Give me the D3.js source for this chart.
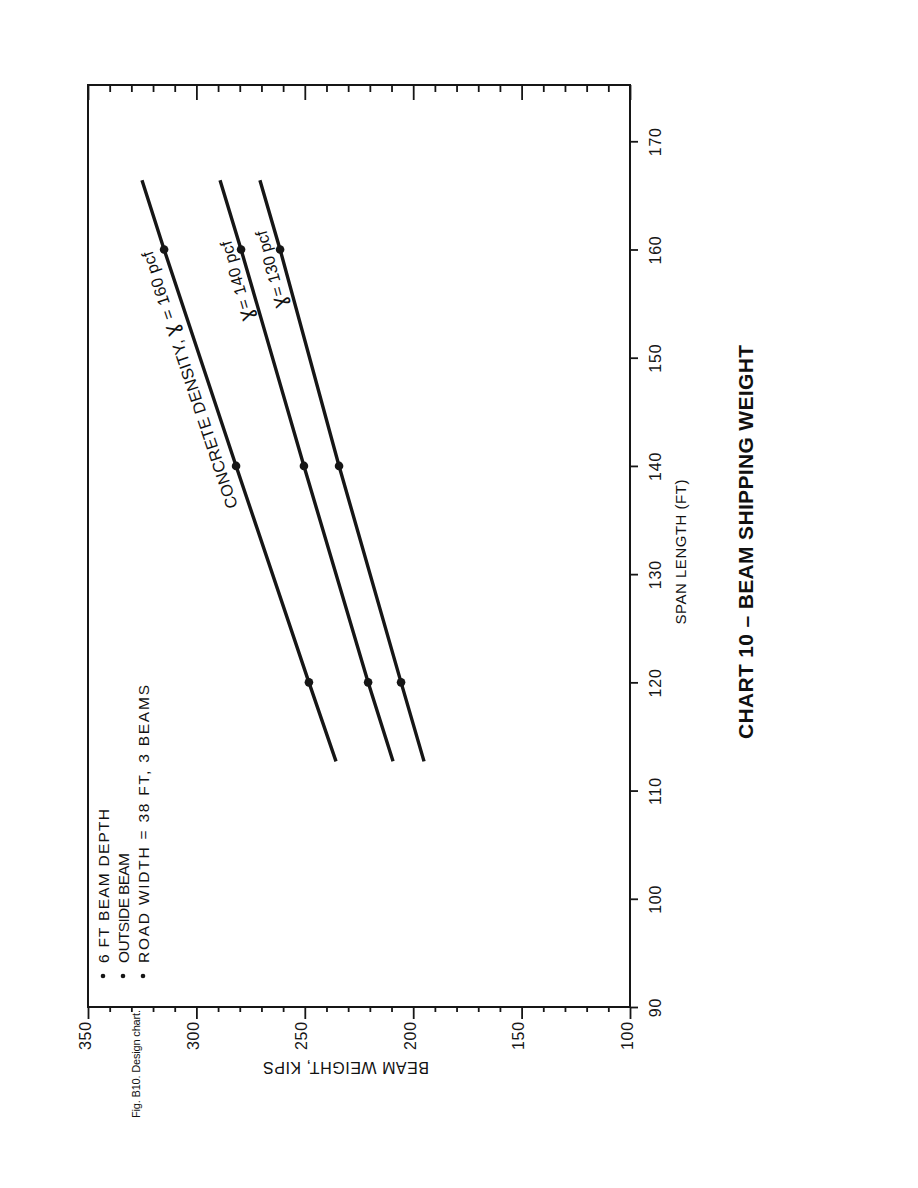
<!DOCTYPE html>
<html>
<head>
<meta charset="utf-8">
<script src="https://cdn.jsdelivr.net/npm/d3@7"></script>
<style>
  html, body { margin: 0; padding: 0; background: #fff; }
  svg { display: block; }
  text { font-family: "Liberation Sans", Arial, Helvetica, sans-serif; fill: #111; }
</style>
</head>
<body>
<script>
// ---------- data ----------
const spanPoints   = [112.7, 120, 140, 160, 166.4];      // span length (ft) of line vertices
const markerSpans  = [120, 140, 160];                      // spans carrying a dot
const weight160    = [235.6, 248.1, 281.7, 314.9, 325.1];  // kips, density 160 pcf
const weight140    = [209.3, 220.8, 250.4, 279.4, 289.1];  // kips, density 140 pcf
const weight130    = [195.0, 205.6, 234.2, 261.4, 270.7];  // kips, density 130 pcf
const seriesNames  = ["CONCRETE DENSITY, \u0263 = 160 pcf", "\u0263= 140 pcf", "\u0263= 130 pcf"];
const weightTicks  = [350, 300, 250, 200, 150, 100];
const weightMinor  = [340, 330, 320, 310, 290, 280, 270, 260, 240, 230, 220, 210,
                      190, 180, 170, 160, 140, 130, 120, 110];
const spanTicks    = [90, 100, 110, 120, 130, 140, 150, 160, 170];
const notes        = ["6 FT BEAM DEPTH", "OUTSIDE BEAM", "ROAD WIDTH = 38 FT, 3 BEAMS"];
const titleText    = "CHART 10 \u2013 BEAM SHIPPING WEIGHT";
const xTitle       = "BEAM WEIGHT, KIPS";
const yTitle       = "SPAN LENGTH (FT)";
const footText     = "Fig. B10. Design chart.";

// ---------- layout ----------
const W = 918, H = 1188;
const svg = d3.select("body").append("svg").attr("width", W).attr("height", H);

const x = d3.scaleLinear().domain([350, 100]).range([88, 630]);   // weight -> horizontal
const y = d3.scaleLinear().domain([90, 175.2]).range([1007, 85]); // span -> vertical

const ink = "#161616";

// frame
svg.append("rect")
  .attr("x", x(350)).attr("y", y(175.2))
  .attr("width", x(100) - x(350)).attr("height", y(90) - y(175.2))
  .attr("fill", "none").attr("stroke", ink).attr("stroke-width", 2);

function styleAxis(g) {
  g.select(".domain").remove();
  g.selectAll(".tick line").attr("stroke", ink).attr("stroke-width", 1.8);
}

// bottom axis (major with labels)
const gBot = svg.append("g").attr("transform", `translate(0,${y(90)})`)
  .call(d3.axisBottom(x).tickValues(weightTicks).tickSize(12).tickFormat(d3.format("d")));
styleAxis(gBot);
gBot.selectAll(".tick text")
  .attr("transform", "rotate(-90)")
  .attr("text-anchor", "end")
  .attr("x", -14).attr("y", 2).attr("dy", 0)
  .attr("font-size", 16).attr("letter-spacing", 0.8)
  .style("fill", ink);

// bottom minor ticks
const gBotMin = svg.append("g").attr("transform", `translate(0,${y(90)})`)
  .call(d3.axisBottom(x).tickValues(weightMinor).tickSize(5).tickFormat(""));
styleAxis(gBotMin);

// top axis ticks (inside)
const gTop = svg.append("g").attr("transform", `translate(0,${y(175.2)})`)
  .call(d3.axisBottom(x).tickValues(weightTicks).tickSize(15).tickFormat(""));
styleAxis(gTop);
const gTopMin = svg.append("g").attr("transform", `translate(0,${y(175.2)})`)
  .call(d3.axisBottom(x).tickValues(weightMinor).tickSize(7).tickFormat(""));
styleAxis(gTopMin);

// right axis (span)
const gRight = svg.append("g").attr("transform", `translate(${x(100)},0)`)
  .call(d3.axisRight(y).tickValues(spanTicks).tickSize(8).tickFormat(d3.format("d")));
styleAxis(gRight);
gRight.selectAll(".tick text")
  .attr("transform", "rotate(-90)")
  .attr("text-anchor", "middle")
  .attr("x", 0).attr("y", 31).attr("dy", 0)
  .attr("font-size", 16).attr("letter-spacing", 0.8)
  .style("fill", ink);

// axis titles
svg.append("text")
  .attr("transform", `translate(346,1062) rotate(180)`)
  .attr("text-anchor", "middle")
  .attr("font-size", 16)
  .attr("textLength", 166).attr("lengthAdjust", "spacing")
  .text(xTitle);

svg.append("text")
  .attr("transform", `translate(686,552) rotate(-90)`)
  .attr("text-anchor", "middle")
  .attr("font-size", 15)
  .attr("textLength", 145).attr("lengthAdjust", "spacing")
  .text(yTitle);

// chart title
svg.append("text")
  .attr("transform", `translate(753,542) rotate(-90)`)
  .attr("text-anchor", "middle")
  .attr("font-size", 21).attr("font-weight", "bold")
  .attr("textLength", 394).attr("lengthAdjust", "spacing")
  .text(titleText);

// footer
svg.append("text")
  .attr("transform", `translate(140,1118) rotate(-90)`)
  .attr("text-anchor", "start")
  .attr("font-size", 11)
  .attr("textLength", 108).attr("lengthAdjust", "spacing")
  .text(footText);

// notes (legend block)
const noteLens = [154, 110, 278];
notes.forEach((t, i) => {
  const bx = 109 + i * 20;
  svg.append("circle").attr("cx", bx - 6).attr("cy", 976).attr("r", 2.3).attr("fill", ink);
  svg.append("text")
    .attr("transform", `translate(${bx},963) rotate(-90)`)
    .attr("text-anchor", "start")
    .attr("font-size", 15.5)
    .attr("textLength", noteLens[i]).attr("lengthAdjust", "spacing")
    .text(t);
});

// ---------- series ----------
const series = [weight160, weight140, weight130];
const line = d3.line().x(d => x(d.w)).y(d => y(d.s));

series.forEach(ws => {
  const pts = spanPoints.map((s, i) => ({ s, w: ws[i] }));
  svg.append("path").datum(pts)
    .attr("d", line)
    .attr("fill", "none").attr("stroke", ink)
    .attr("stroke-width", 3.4).attr("stroke-linecap", "butt");
  const interp = d3.scaleLinear().domain(spanPoints).range(ws);
  svg.append("g").selectAll("circle").data(markerSpans).join("circle")
    .attr("cx", s => x(interp(s))).attr("cy", s => y(s))
    .attr("r", 4.3).attr("fill", ink);
});

// series labels along lines (gamma drawn a little larger, as in the original)
const labelStart = [136.6, 153.7, 154.9];
const labelOffset = [11, 7, 8];
const labelLen = [270, 83, 80];
series.forEach((ws, i) => {
  const interp = d3.scaleLinear().domain(spanPoints).range(ws);
  const s0 = labelStart[i], s1 = s0 + 5;
  const p0 = [x(interp(s0)), y(s0)], p1 = [x(interp(s1)), y(s1)];
  const ang = Math.atan2(p1[1] - p0[1], p1[0] - p0[0]) * 180 / Math.PI;
  const t = svg.append("text")
    .attr("transform", `translate(${p0[0]},${p0[1]}) rotate(${ang})`)
    .attr("y", -labelOffset[i])
    .attr("text-anchor", "start")
    .attr("font-size", 16.5)
    .attr("textLength", labelLen[i]).attr("lengthAdjust", "spacing");
  const parts = seriesNames[i].split("\u0263");
  t.append("tspan").text(parts[0]);
  t.append("tspan").attr("font-size", 21).attr("font-family", "DejaVu Sans").text("\u0263");
  t.append("tspan").text(parts[1]);
});
</script>
</body>
</html>
